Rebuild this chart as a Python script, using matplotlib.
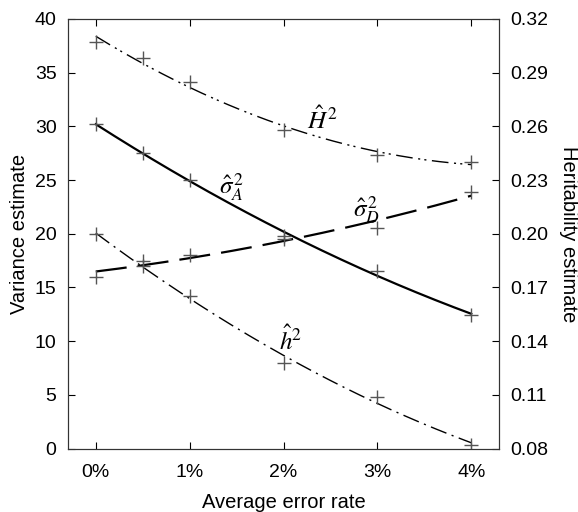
import numpy as np
import matplotlib.pyplot as plt

# Messwerte (Fehlerrate in %)
err = np.array([0, 0.5, 1, 2, 3, 4])
sigA2 = np.array([30.2, 27.5, 25.0, 19.8, 16.5, 12.4])
sigD2 = np.array([16.0, 17.5, 18.0, 19.5, 20.5, 23.9])
H2 = np.array([0.307, 0.298, 0.285, 0.258, 0.244, 0.240])
h2 = np.array([0.200, 0.182, 0.165, 0.128, 0.109, 0.082])

plt.rcParams['font.family'] = ['Liberation Sans', 'DejaVu Sans']
plt.rcParams['mathtext.fontset'] = 'stix'

fig = plt.figure(figsize=(5.78, 5.12), dpi=100)
ax = fig.add_axes([0.117, 0.124, 0.747, 0.839])
ax2 = ax.twinx()

x = np.linspace(0, 4, 200)
mcol = '#555555'

# Varianzen (linke Achse)
p = np.polyfit(err, sigA2, 2)
ax.plot(x, np.polyval(p, x), 'k-', lw=1.6)
ax.plot(err, sigA2, '+', color=mcol, ms=10, mew=1)
p = np.polyfit(err, sigD2, 2)
ax.plot(x, np.polyval(p, x), 'k', lw=1.6, ls=(0, (14, 5)))
ax.plot(err, sigD2, '+', color=mcol, ms=10, mew=1)

# Heritabilitaeten (rechte Achse)
p = np.polyfit(err, H2, 2)
ax2.plot(x, np.polyval(p, x), 'k', lw=1.0, ls=(0, (12, 4, 1.5, 3, 1.5, 4)))
ax2.plot(err, H2, '+', color=mcol, ms=10, mew=1)
p = np.polyfit(err, h2, 2)
ax2.plot(x, np.polyval(p, x), 'k', lw=1.0, ls=(0, (12, 4, 1.5, 4)))
ax2.plot(err, h2, '+', color=mcol, ms=10, mew=1)

ax.text(2.42, 30.6, r'$\hat{H}^{\,2}$', fontsize=18, ha='center', va='center')
ax.text(1.45, 24.3, r'$\hat{\sigma}_A^{\,2}$', fontsize=18, ha='center', va='center')
ax.text(2.88, 22.2, r'$\hat{\sigma}_D^{\,2}$', fontsize=18, ha='center', va='center')
ax.text(2.08, 10.1, r'$\hat{h}^{2}$', fontsize=18, ha='center', va='center')

ax.set_xlim(-0.3, 4.3)
ax.set_ylim(0, 40)
ax2.set_ylim(0.08, 0.32)
ax.set_xticks([0, 1, 2, 3, 4])
ax.set_xticklabels(['0%', '1%', '2%', '3%', '4%'])
ax.set_yticks(np.arange(0, 41, 5))
ax2.set_yticks([0.08, 0.11, 0.14, 0.17, 0.20, 0.23, 0.26, 0.29, 0.32])
ax2.set_yticklabels(['0.08', '0.11', '0.14', '0.17', '0.20', '0.23', '0.26', '0.29', '0.32'])

ax.tick_params(axis='x', direction='in', top=True, length=5, labelsize=14, pad=11)
ax.tick_params(axis='y', direction='in', length=5, labelsize=14, pad=8)
ax2.tick_params(axis='y', direction='in', length=5, labelsize=14, pad=8)

ax.set_xlabel('Average error rate', fontsize=14.5, labelpad=9)
ax.set_ylabel('Variance estimate', fontsize=14.5, labelpad=4)
ax2.set_ylabel('Heritability estimate', fontsize=14.5, rotation=-90, labelpad=21)

for a in (ax, ax2):
    for s in a.spines.values():
        s.set_color('#333333')

fig.savefig('out.png', dpi=100)
